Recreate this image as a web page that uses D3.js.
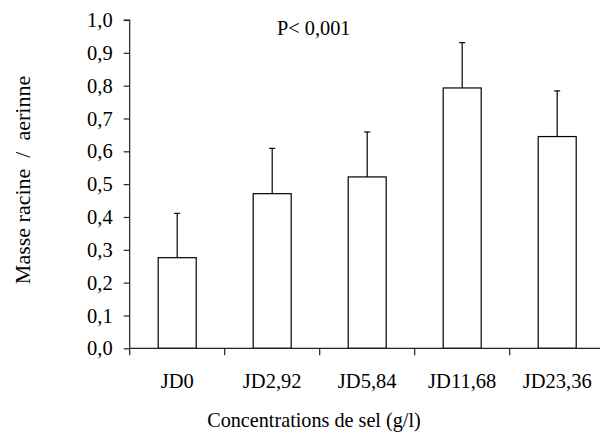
<!DOCTYPE html>
<html>
<head>
<meta charset="utf-8">
<script src="https://cdn.jsdelivr.net/npm/d3@7"></script>
<style>
  html, body { margin: 0; padding: 0; background: #fff; }
  svg { display: block; }
  text { font-family: "Liberation Serif", "Times New Roman", serif; fill: #000; }
</style>
</head>
<body>
<svg id="chart" width="600" height="441"></svg>
<script>
// Salt treatments and root / shoot mass ratio (mean and standard deviation)
const categories = ["JD0", "JD2,92", "JD5,84", "JD11,68", "JD23,36"];
const means = [0.276, 0.471, 0.522, 0.793, 0.645];
const errors = [0.135, 0.138, 0.137, 0.138, 0.139];
const yTicks = [0, 0.1, 0.2, 0.3, 0.4, 0.5, 0.6, 0.7, 0.8, 0.9, 1.0];

const svg = d3.select("#chart");
const fmt = v => d3.format(".1f")(v).replace(".", ",");

const x = d3.scaleBand()
  .domain(categories)
  .range([129.7, 604.7])
  .paddingInner(0.6)
  .paddingOuter(0.3);

const y = d3.scaleLinear().domain([0, 1]).range([348.3, 20]);

const step = x.step();

// Bars
svg.append("g").selectAll("rect")
  .data(categories)
  .join("rect")
  .attr("x", d => x(d))
  .attr("y", (d, i) => y(means[i]))
  .attr("width", x.bandwidth())
  .attr("height", (d, i) => y(0) - y(means[i]))
  .attr("fill", "#fff")
  .attr("stroke", "#000")
  .attr("stroke-width", 1.2);

// Upper error bars
const err = svg.append("g").attr("stroke", "#000").attr("stroke-width", 1.2);
err.selectAll("line.stem")
  .data(categories)
  .join("line")
  .attr("class", "stem")
  .attr("x1", d => x(d) + x.bandwidth() / 2)
  .attr("x2", d => x(d) + x.bandwidth() / 2)
  .attr("y1", (d, i) => y(means[i]))
  .attr("y2", (d, i) => y(means[i] + errors[i]));
err.selectAll("line.cap")
  .data(categories)
  .join("line")
  .attr("class", "cap")
  .attr("x1", d => x(d) + x.bandwidth() / 2 - 3)
  .attr("x2", d => x(d) + x.bandwidth() / 2 + 3)
  .attr("y1", (d, i) => y(means[i] + errors[i]))
  .attr("y2", (d, i) => y(means[i] + errors[i]));

// Y axis
const yAxis = svg.append("g")
  .attr("transform", `translate(${x.range()[0]},0)`)
  .call(d3.axisLeft(y).tickValues(yTicks).tickFormat(fmt).tickSize(6).tickPadding(11));
yAxis.select(".domain").attr("stroke", "#222").attr("stroke-width", 1.2).attr("d", `M-6,${y(1)}H0V${y(0)}`);
yAxis.selectAll(".tick line").attr("stroke", "#222").attr("stroke-width", 1.2);
yAxis.selectAll(".tick text").style("font-size", "20.5px");

// X axis: labels centred in each band, ticks at band boundaries
const xAxis = svg.append("g")
  .attr("transform", `translate(0,${y(0)})`)
  .call(d3.axisBottom(x).tickSize(0).tickPadding(25.5));
xAxis.select(".domain").attr("stroke", "#222").attr("stroke-width", 1.2)
  .attr("d", `M${x.range()[0]},0H${x.range()[1]}`);
xAxis.selectAll(".tick text").style("font-size", "20.5px");
xAxis.selectAll("line.boundary")
  .data(categories)
  .join("line")
  .attr("class", "boundary")
  .attr("x1", d => x(d) - step * 0.3)
  .attr("x2", d => x(d) - step * 0.3)
  .attr("y1", 0)
  .attr("y2", 7)
  .attr("stroke", "#222")
  .attr("stroke-width", 1.2);

// Axis titles and significance note
svg.append("text")
  .attr("x", 314).attr("y", 427)
  .attr("text-anchor", "middle")
  .style("font-size", "20.2px")
  .text("Concentrations de sel (g/l)");

svg.append("text")
  .attr("transform", "translate(30,180) rotate(-90)")
  .attr("text-anchor", "middle")
  .style("font-size", "22px")
  .style("white-space", "pre")
  .text("Masse racine  /  aerinne");

svg.append("text")
  .attr("x", 277).attr("y", 35)
  .style("font-size", "20.3px")
  .text("P< 0,001");
</script>
</body>
</html>
